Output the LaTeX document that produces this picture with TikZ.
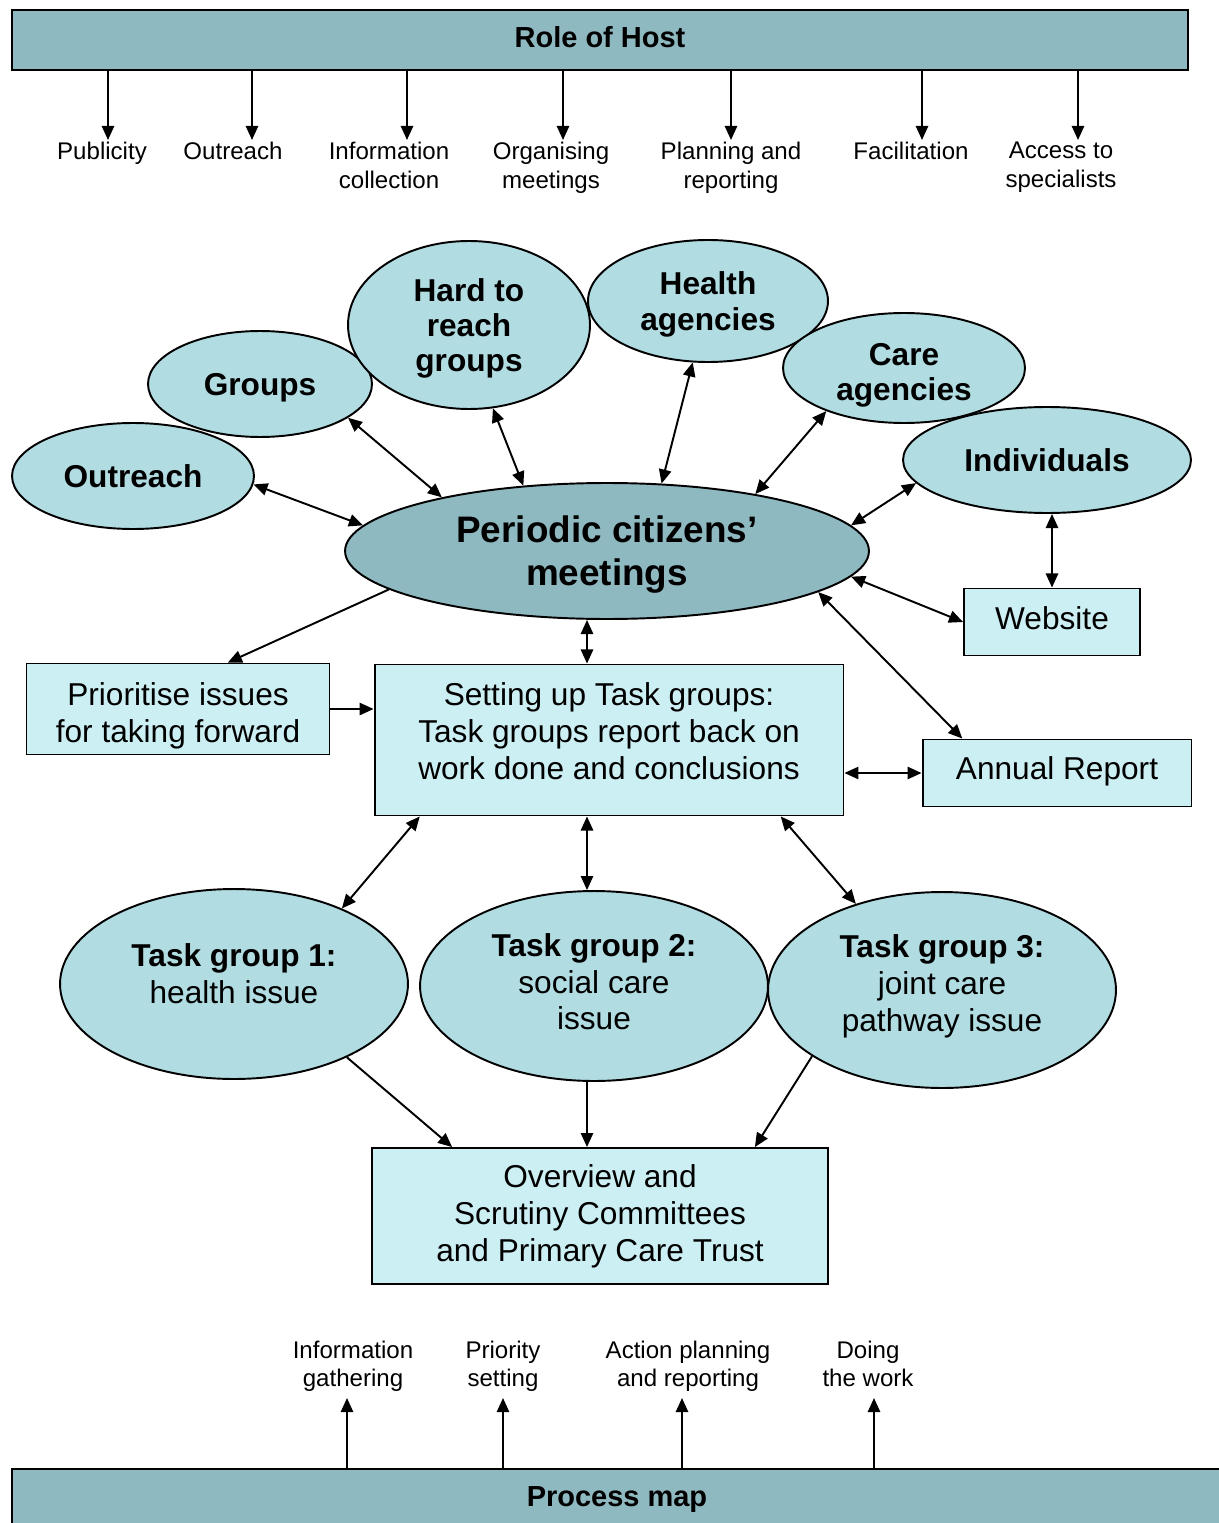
\documentclass[tikz,border=0pt]{standalone}
\usepackage{fontspec}
\setmainfont{Liberation Sans}
\usetikzlibrary{arrows.meta,positioning,shapes.geometric,calc}
\definecolor{barteal}{HTML}{8FB9C0}
\definecolor{blobblue}{HTML}{B0DCE2}
\definecolor{boxcyan}{HTML}{CCEFF3}
\tikzset{>={Triangle[length=8pt,width=7pt]}}
\tikzset{
  hostbar/.style={draw, line width=1.1pt, fill=barteal, inner sep=0pt, text depth=0pt, font=\bfseries\fontsize{16.5}{19}\selectfont},
  blob/.style={ellipse, draw, line width=1.1pt, fill=blobblue, inner sep=0pt, text depth=0pt, align=center, font=\bfseries\fontsize{18}{20}\selectfont},
  taskblob/.style={blob, minimum width=6.96cm, text depth=5pt, font=\fontsize{18}{21}\selectfont},
  infobox/.style={rectangle, draw, line width=1.1pt, fill=boxcyan, inner sep=0pt, align=center, font=\fontsize{18}{21}\selectfont},
  lbl/.style={inner sep=1pt, text depth=0.21em, align=center, font=\fontsize{13.7}{16.4}\selectfont},
  link/.style={line width=1.1pt},
}

\begin{document}
\begin{tikzpicture}[x=0.02cm, y=-0.02cm]
		\useasboundingbox (0,0) rectangle (1218,1523);
		% top bar and its tasks
		\node[hostbar, text depth=3.5pt, minimum width=23.52cm, minimum height=1.2cm] (host) at (600,40) {Role of Host};
		\foreach \i/\lx/\ax/\txt in {1/102/108/Publicity, 2/233/252/Outreach, 3/389/407/{Information\\collection}, 4/551/563/{Organising\\meetings}, 5/731/731/{Planning and\\reporting}, 6/911/922/Facilitation, 7/1061/1078/{Access to\\specialists}}{
			\coordinate (ha\i) at (\ax,0);
			\node[lbl, anchor=north] (hl\i) at (\lx,140) {\txt};
			\draw[link,->] (host.south -| ha\i) -- (hl\i.north -| ha\i);
		}
		% bottom bar
		\node[hostbar, minimum width=24.2cm, minimum height=1.12cm] (proc) at (617,1497) {Process map};
		\foreach \i/\lx/\ax/\txt in {1/353/347/{Information\\gathering}, 2/503/503/{Priority\\setting}, 3/688/682/{Action planning\\and reporting}, 4/868/874/{Doing\\the work}}{
			\coordinate (pa\i) at (\ax,0);
			\node[lbl, anchor=south, inner sep=4pt] (pl\i) at (\lx,1398) {\txt};
			\draw[link,->] (proc.north -| pa\i) -- (pl\i.south -| pa\i);
		}
		% the ring of partners
		\node[blob, minimum width=4.48cm, minimum height=2.12cm] (groups) at (260,384) {Groups};
		\node[blob, minimum width=4.84cm, minimum height=2.12cm] (outreach) at (133,476) {Outreach};
		\node[blob, minimum width=4.84cm, minimum height=3.36cm] (hard) at (469,325) {Hard to\\reach\\groups};
		\node[blob, minimum width=4.8cm, minimum height=2.44cm] (health) at (708,301) {Health\\agencies};
		\node[blob, text height=37.5pt, minimum width=4.84cm, minimum height=2.2cm] (care) at (904,368) {Care\\agencies};
		\node[blob, minimum width=5.76cm, minimum height=2.12cm] (indiv) at (1047,460) {Individuals};
		\node[blob, fill=barteal, minimum width=10.48cm, minimum height=2.72cm, font=\bfseries\fontsize{21}{24.4}\selectfont] (pcm) at (607,551) {Periodic citizens'\\meetings};
		% boxes
		\node[infobox, text height=42pt, minimum width=6.06cm, minimum height=1.82cm] (pri) at (178,709) {Prioritise issues\\for taking forward};
		\node[infobox, text depth=10pt, minimum width=9.38cm, minimum height=3.02cm] (setup) at (609,740) {Setting up Task groups:\\Task groups report back on\\work done and conclusions};
		\node[infobox, text depth=4.5pt, minimum width=3.52cm, minimum height=1.34cm] (web) at (1052,622) {Website};
		\node[infobox, text depth=6pt, minimum width=5.38cm, minimum height=1.34cm] (ar) at (1057,773) {Annual Report};
		\node[infobox, minimum width=9.12cm, minimum height=2.72cm] (ov) at (600,1216) {Overview and\\Scrutiny Committees\\and Primary Care Trust};
		% task groups
		\node[taskblob, text depth=12pt, minimum height=3.8cm] (tg1) at (234,984) {\textbf{Task group 1:}\\health issue};
		\node[taskblob, minimum height=3.8cm] (tg2) at (594,986) {\textbf{Task group 2:}\\social care\\issue};
		\node[taskblob, text depth=8pt, minimum height=3.92cm] (tg3) at (942,990) {\textbf{Task group 3:}\\joint care\\pathway issue};
		% connectors
		\coordinate (mid) at (587,0);
		\draw[link,<->] (outreach.-4) -- (pcm.174);
		\draw[link,<->] (groups.-21) -- (pcm.162);
		\draw[link,<->] (hard.-74) -- (pcm.142);
		\draw[link,<->] (health.256) -- (pcm.51);
		\draw[link,<->] (care.209) -- (pcm.21);
		\draw[link,<->] (indiv.190) -- (pcm.6);
		\draw[link,<->] (indiv.south -| web.north) -- (web.north);
		\draw[link,<->] (web.west) -- (pcm.-6);
		\draw[link,<->] (ar.160) -- (pcm.-11);
		\draw[link,->] (pcm.190) -- (pri.43);
		\draw[link,->] (pri.east) -- (pri.east -| setup.west);
		\draw[link,<->] (pcm.south -| mid) -- (setup.north -| mid);
		\draw[link,<->] (ar.west -| setup.east) -- (ar.west);
		\draw[link,<->] (setup.202) -- (tg1.35);
		\draw[link,<->] (setup.south -| mid) -- (tg2.north -| mid);
		\draw[link,<->] (setup.-24) -- (tg3.135);
		\draw[link,->] (tg1.-33) -- (ov.155);
		\draw[link,->] (tg2.south -| mid) -- (ov.north -| mid);
		\draw[link,->] (tg3.207) -- (ov.24);
	\end{tikzpicture}
\end{document}
